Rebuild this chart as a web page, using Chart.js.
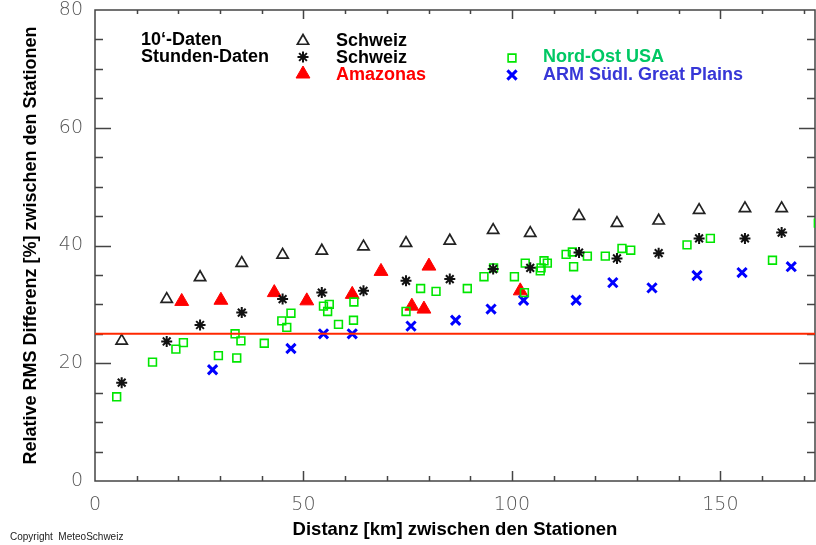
<!DOCTYPE html>
<html>
<head>
<meta charset="utf-8">
<script src="https://cdn.jsdelivr.net/npm/chart.js@4.4.0/dist/chart.umd.min.js"></script>
<style>
body { margin: 0; background: #fff; }
#wrap { width: 816px; height: 545px; }
</style>
</head>
<body>
<div id="wrap"><canvas id="rmsChart" width="816" height="545"></canvas></div>
<script>
// axis range and tick labels
const xMax = 172.7;
const xTickLabels = [0, 50, 100, 150];
const yTickLabels = [0, 20, 40, 60, 80];
const refLevel = 25;

// Schweiz, 10'-Daten (open triangles) and Stunden-Daten (asterisks) share the station distances
const swissDist   = [6.4, 17.2, 25.2, 35.2, 45.0, 54.4, 64.4, 74.6, 85.1, 95.5, 104.4, 116.1, 125.2, 135.2, 144.9, 155.9, 164.7];
const swiss10min  = [23.8, 30.9, 34.6, 37.0, 38.4, 39.1, 39.8, 40.4, 40.8, 42.6, 42.1, 45.0, 43.8, 44.2, 46.0, 46.3, 46.3];
const swissHourly = [16.7, 23.7, 26.5, 28.6, 30.9, 32.0, 32.3, 34.0, 34.3, 36.0, 36.2, 38.8, 37.8, 38.7, 41.2, 41.2, 42.2];

// Amazonas
const amazDist = [20.8, 30.2, 43.0, 50.8, 61.7, 68.6, 76.0, 78.9, 80.1, 102.0];
const amazRms  = [30.5, 30.7, 32.0, 30.6, 31.7, 35.6, 29.7, 29.2, 36.5, 32.3];

// Nord-Ost USA
const neusaDist = [5.2, 13.8, 19.4, 21.2, 29.6, 33.6, 35.0, 34.0, 40.6, 44.8, 46.0, 47.0, 54.8, 56.2, 55.8, 58.4, 62.1, 62.0,
                   74.6, 78.1, 81.8, 89.3, 93.3, 95.6, 100.6, 103.0, 103.2, 106.8, 107.0, 107.7, 108.5, 113.0, 114.5, 114.8,
                   118.1, 122.4, 126.4, 128.5, 142.0, 147.6, 162.5, 173.5];
const neusaRms  = [14.3, 20.2, 22.4, 23.5, 21.3, 25.0, 23.8, 20.9, 23.4, 27.2, 26.1, 28.5, 29.7, 30.0, 28.8, 26.6, 30.4, 27.3,
                   28.8, 32.7, 32.2, 32.7, 34.7, 36.2, 34.7, 32.0, 37.0, 35.7, 36.2, 37.4, 37.0, 38.5, 38.9, 36.4,
                   38.2, 38.2, 39.5, 39.2, 40.1, 41.2, 37.5, 43.8];

// ARM Südl. Great Plains
const sgpDist = [28.2, 47.0, 54.8, 61.7, 75.8, 86.5, 95.0, 102.8, 115.4, 124.2, 133.6, 144.4, 155.2, 167.0];
const sgpRms  = [18.9, 22.5, 25.0, 25.0, 26.3, 27.3, 29.2, 30.7, 30.7, 33.7, 32.8, 34.9, 35.4, 36.4];

const pts = (xs, ys) => xs.map((x, i) => ({ x: x, y: ys[i] }));

const GREEN = 'rgb(0,230,0)';
const BLUE = 'rgb(0,0,255)';
const RED = 'rgb(255,0,0)';

const styles = {
  tri:   { pointStyle: 'triangle', radius: 6.5, borderWidth: 1.7, stroke: '#222', fill: 'rgba(0,0,0,0)' },
  star:  { pointStyle: 'star', radius: 5.5, borderWidth: 2, stroke: '#111', fill: 'rgba(0,0,0,0)' },
  redTri:{ pointStyle: 'triangle', radius: 8, borderWidth: 1, stroke: RED, fill: RED },
  sq:    { pointStyle: 'rect', radius: 5.5, borderWidth: 1.6, stroke: GREEN, fill: 'rgba(0,0,0,0)' },
  cross: { pointStyle: 'crossRot', radius: 6.5, borderWidth: 3, stroke: BLUE, fill: BLUE }
};

function scatterSet(label, data, st) {
  return {
    type: 'scatter', label: label, data: data,
    pointStyle: st.pointStyle, pointRadius: st.radius, pointBorderWidth: st.borderWidth,
    pointBorderColor: st.stroke, pointBackgroundColor: st.fill,
    pointHoverRadius: st.radius
  };
}

// keep the plot box fixed: no extra room for overhanging tick labels
function fixBox(size) {
  return s => {
    if (s.isHorizontal()) s.height = size; else s.width = size;
    s.paddingTop = 0; s.paddingBottom = 0; s.paddingLeft = 0; s.paddingRight = 0;
  };
}

// frame with inward tick marks on all four sides
const frameTicks = {
  id: 'frameTicks',
  beforeDatasetsDraw(chart) {
    const ctx = chart.ctx, a = chart.chartArea;
    const xs = chart.scales.x, ys = chart.scales.y;
    ctx.save();
    ctx.strokeStyle = '#444';
    ctx.lineWidth = 1.5;
    ctx.strokeRect(a.left, a.top, a.right - a.left, a.bottom - a.top);
    ctx.beginPath();
    for (let v = 10; v < xMax; v += 10) {
      const px = Math.round(xs.getPixelForValue(v)) + 0.5;
      const major = v % 50 === 0;
      ctx.moveTo(px, a.bottom); ctx.lineTo(px, a.bottom - (major ? 10 : 5));
      ctx.moveTo(px, a.top); ctx.lineTo(px, a.top + (major ? 9 : 4));
    }
    for (let v = 5; v < 80; v += 5) {
      const py = Math.round(ys.getPixelForValue(v)) + 0.5;
      const major = v % 20 === 0;
      ctx.moveTo(a.left, py); ctx.lineTo(a.left + (major ? 16 : 8), py);
      ctx.moveTo(a.right, py); ctx.lineTo(a.right - (major ? 16 : 8), py);
    }
    ctx.stroke();
    ctx.restore();
  },
  afterDraw(chart) {
    const ctx = chart.ctx;
    const mark = (st, x, y) => {
      ctx.save();
      ctx.strokeStyle = st.stroke;
      ctx.fillStyle = st.fill;
      ctx.lineWidth = st.borderWidth;
      Chart.helpers.drawPoint(ctx, { pointStyle: st.pointStyle, radius: st.radius, borderWidth: st.borderWidth, rotation: 0 }, x, y);
      ctx.restore();
    };
    const text = (s, x, y, color, font) => {
      ctx.fillStyle = color;
      ctx.font = font;
      ctx.fillText(s, x, y);
    };
    ctx.save();
    ctx.textBaseline = 'middle';
    ctx.textAlign = 'left';
    const bold = 'bold 18px "Liberation Sans", Arial, sans-serif';
    text('10‘-Daten', 141, 40, '#000', bold);
    text('Stunden-Daten', 141, 57, '#000', bold);
    mark(styles.tri, 303, 41);
    mark(styles.star, 303, 57);
    mark(styles.redTri, 303, 74);
    text('Schweiz', 336, 41, '#000', bold);
    text('Schweiz', 336, 58, '#000', bold);
    text('Amazonas', 336, 75, RED, bold);
    mark(styles.sq, 512, 58);
    mark(styles.cross, 512, 75);
    text('Nord-Ost USA', 543, 57, 'rgb(0,200,100)', bold);
    text('ARM Südl. Great Plains', 543, 75, 'rgb(55,55,215)', bold);
    text('Copyright  MeteoSchweiz', 10, 537, '#222', '10px "Liberation Sans", Arial, sans-serif');
    ctx.restore();
  }
};

new Chart(document.getElementById('rmsChart'), {
  data: {
    datasets: [
      {
        type: 'line', label: 'ref', data: [{ x: 0, y: refLevel }, { x: xMax, y: refLevel }],
        borderColor: 'rgb(255,40,0)', borderWidth: 2, pointRadius: 0, fill: false
      },
      scatterSet('Schweiz 10‘-Daten', pts(swissDist, swiss10min), styles.tri),
      scatterSet('Schweiz Stunden-Daten', pts(swissDist, swissHourly), styles.star),
      scatterSet('Nord-Ost USA', pts(neusaDist, neusaRms), styles.sq),
      scatterSet('ARM Südl. Great Plains', pts(sgpDist, sgpRms), styles.cross),
      scatterSet('Amazonas', pts(amazDist, amazRms), styles.redTri)
    ]
  },
  options: {
    responsive: false,
    animation: false,
    layout: { autoPadding: false, padding: { top: 10, right: 1, left: 0, bottom: 0 } },
    plugins: { legend: { display: false }, tooltip: { enabled: false } },
    scales: {
      x: {
        type: 'linear', min: 0, max: xMax,
        grid: { display: false }, border: { display: false },
        afterFit: fixBox(64),
        afterBuildTicks: s => { s.ticks = xTickLabels.map(v => ({ value: v })); },
        ticks: { color: '#555', padding: 5, font: { family: '"DejaVu Sans", sans-serif', size: 19, weight: 200 } },
        title: {
          display: true, text: 'Distanz [km] zwischen den Stationen', color: '#000',
          padding: { top: 0, bottom: 4 },
          font: { family: '"Liberation Sans", Arial, sans-serif', size: 18.5, weight: 'bold' }
        }
      },
      y: {
        type: 'linear', min: 0, max: 80,
        grid: { display: false }, border: { display: false },
        afterFit: fixBox(95),
        afterBuildTicks: s => { s.ticks = yTickLabels.map(v => ({ value: v })); },
        ticks: { color: '#555', padding: 4, font: { family: '"DejaVu Sans", sans-serif', size: 19, weight: 200 } },
        title: {
          display: true, text: 'Relative RMS Differenz [%] zwischen den Stationen', color: '#000',
          padding: { top: 20, bottom: 0 },
          font: { family: '"Liberation Sans", Arial, sans-serif', size: 18, weight: 'bold' }
        }
      }
    }
  },
  plugins: [frameTicks]
});
</script>
</body>
</html>
